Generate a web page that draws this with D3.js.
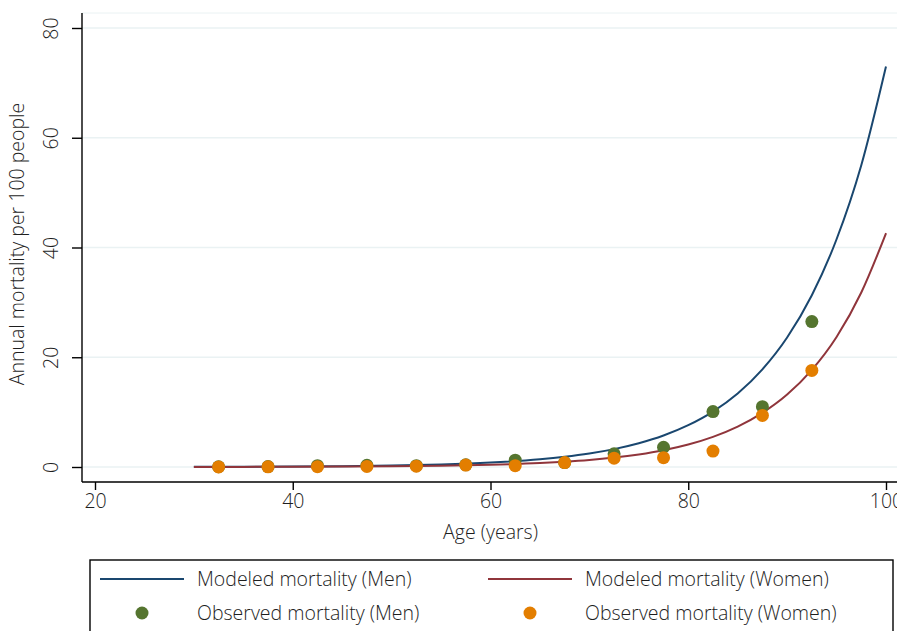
<!DOCTYPE html>
<html>
<head>
<meta charset="utf-8">
<script src="https://cdn.jsdelivr.net/npm/d3@7"></script>
<style>
  html, body { margin: 0; padding: 0; background: #fff; }
  svg { display: block; }
  text { font-family: "Open Sans", "Noto Sans", sans-serif; font-weight: 300; fill: #1e1e1e; }
</style>
</head>
<body>
<svg id="chart" width="897" height="631"></svg>
<script>
// ---- Data ----
const modelAges = [30, 35, 40, 45, 50, 55, 60, 65, 67.5, 70, 72.5, 75, 77.5, 80, 82.5, 85, 87.5, 90, 92.5, 95, 97.5, 100];
const modelMen = [0.03, 0.05, 0.08, 0.15, 0.26, 0.45, 0.8, 1.4, 1.86, 2.46, 3.26, 4.33, 5.74, 7.62, 10.1, 13.4, 17.8, 23.6, 31.3, 41.5, 55.0, 73.0];
const modelWomen = [0.01, 0.02, 0.04, 0.07, 0.12, 0.22, 0.4, 0.71, 0.95, 1.27, 1.71, 2.29, 3.06, 4.1, 5.5, 7.37, 9.87, 13.2, 17.7, 23.7, 31.8, 42.6];

const obsAges = [32.5, 37.5, 42.5, 47.5, 52.5, 57.5, 62.5, 67.5, 72.5, 77.5, 82.5, 87.5, 92.5];
const obsMen = [0.05, 0.08, 0.25, 0.3, 0.25, 0.4, 1.25, 0.8, 2.4, 3.6, 10.1, 11.0, 26.5];
const obsWomen = [0.02, 0.03, 0.06, 0.1, 0.15, 0.35, 0.25, 0.8, 1.6, 1.7, 2.9, 9.4, 17.6];

const xTicks = [20, 40, 60, 80, 100];
const yTicks = [0, 20, 40, 60, 80];

const legendLabels = ["Modeled mortality (Men)", "Modeled mortality (Women)", "Observed mortality (Men)", "Observed mortality (Women)"];
const colors = { men: "#1a476f", women: "#90353b", obsMen: "#55752f", obsWomen: "#e37e00" };

// ---- Layout ----
const svg = d3.select("#chart");
const x = d3.scaleLinear().domain([20, 100]).range([95, 886]);
const y = d3.scaleLinear().domain([0, 80]).range([467, 28]);
const axisX0 = 82, axisY0 = 482, plotTop = 13, plotRight = 897;
const FS = 19.5;

// faint plot-region top border
svg.append("line").attr("x1", axisX0).attr("x2", plotRight).attr("y1", plotTop).attr("y2", plotTop)
  .attr("stroke", "#eaf2f3").attr("stroke-width", 1);

// gridlines
svg.append("g").selectAll("line").data(yTicks).join("line")
  .attr("x1", axisX0).attr("x2", plotRight)
  .attr("y1", d => y(d)).attr("y2", d => y(d))
  .attr("stroke", "#eaf2f3").attr("stroke-width", 1.6);

// Y axis
const yAxis = d3.axisLeft(y).tickValues(yTicks).tickSize(10).tickPadding(14).tickFormat(d3.format("d"));
const gy = svg.append("g").attr("transform", `translate(${axisX0},0)`).call(yAxis);
gy.select(".domain").remove();
gy.append("line").attr("x1", 0).attr("x2", 0).attr("y1", plotTop).attr("y2", axisY0)
  .attr("stroke", "#000").attr("stroke-width", 1.4);
gy.selectAll(".tick line").attr("stroke", "#000").attr("stroke-width", 1.4);
gy.selectAll(".tick text")
  .attr("font-size", FS).attr("fill", "#1e1e1e")
  .attr("x", null).attr("dy", null)
  .attr("text-anchor", "middle")
  .attr("transform", "translate(-31,0) rotate(-90)")
  .attr("y", 0)
  .attr("dy", "0.35em");

// X axis
const xAxis = d3.axisBottom(x).tickValues(xTicks).tickSize(8).tickPadding(4).tickFormat(d3.format("d"));
const gx = svg.append("g").attr("transform", `translate(0,${axisY0})`).call(xAxis);
gx.select(".domain").remove();
gx.append("line").attr("x1", axisX0).attr("x2", plotRight).attr("y1", 0).attr("y2", 0)
  .attr("stroke", "#000").attr("stroke-width", 1.4);
gx.selectAll(".tick line").attr("stroke", "#000").attr("stroke-width", 1.4);
gx.selectAll(".tick text").attr("font-size", FS).attr("fill", "#1e1e1e");

// Axis titles
svg.append("text").attr("x", x(60)).attr("y", 539).attr("text-anchor", "middle")
  .attr("font-size", FS).text("Age (years)");
svg.append("text").attr("transform", `translate(24,${244}) rotate(-90)`)
  .attr("text-anchor", "middle").attr("font-size", FS).text("Annual mortality per 100 people");

// Model curves
const line = (vals) => d3.line().x((d, i) => x(modelAges[i])).y(d => y(d)).curve(d3.curveMonotoneX)(vals);
svg.append("path").attr("d", line(modelMen)).attr("fill", "none").attr("stroke", colors.men).attr("stroke-width", 2);
svg.append("path").attr("d", line(modelWomen)).attr("fill", "none").attr("stroke", colors.women).attr("stroke-width", 2);

// Observed points (men first, women on top)
svg.append("g").selectAll("circle").data(obsMen).join("circle")
  .attr("cx", (d, i) => x(obsAges[i])).attr("cy", d => y(d)).attr("r", 6.5).attr("fill", colors.obsMen);
svg.append("g").selectAll("circle").data(obsWomen).join("circle")
  .attr("cx", (d, i) => x(obsAges[i])).attr("cy", d => y(d)).attr("r", 6.5).attr("fill", colors.obsWomen);

// Legend
const lg = svg.append("g");
lg.append("rect").attr("x", 90).attr("y", 560).attr("width", 803).attr("height", 90)
  .attr("fill", "#fff").attr("stroke", "#000").attr("stroke-width", 1.4);
const cols = [100, 488];
const rows = [579, 613];
[[colors.men, legendLabels[0]], [colors.women, legendLabels[1]]].forEach((d, i) => {
  lg.append("line").attr("x1", cols[i]).attr("x2", cols[i] + 84).attr("y1", rows[0]).attr("y2", rows[0])
    .attr("stroke", d[0]).attr("stroke-width", 2);
  lg.append("text").attr("x", cols[i] + 97).attr("y", rows[0]).attr("dy", "0.35em")
    .attr("font-size", FS).text(d[1]);
});
[[colors.obsMen, legendLabels[2]], [colors.obsWomen, legendLabels[3]]].forEach((d, i) => {
  lg.append("circle").attr("cx", cols[i] + 42).attr("cy", rows[1]).attr("r", 6.5).attr("fill", d[0]);
  lg.append("text").attr("x", cols[i] + 97).attr("y", rows[1]).attr("dy", "0.35em")
    .attr("font-size", FS).text(d[1]);
});
</script>
</body>
</html>
